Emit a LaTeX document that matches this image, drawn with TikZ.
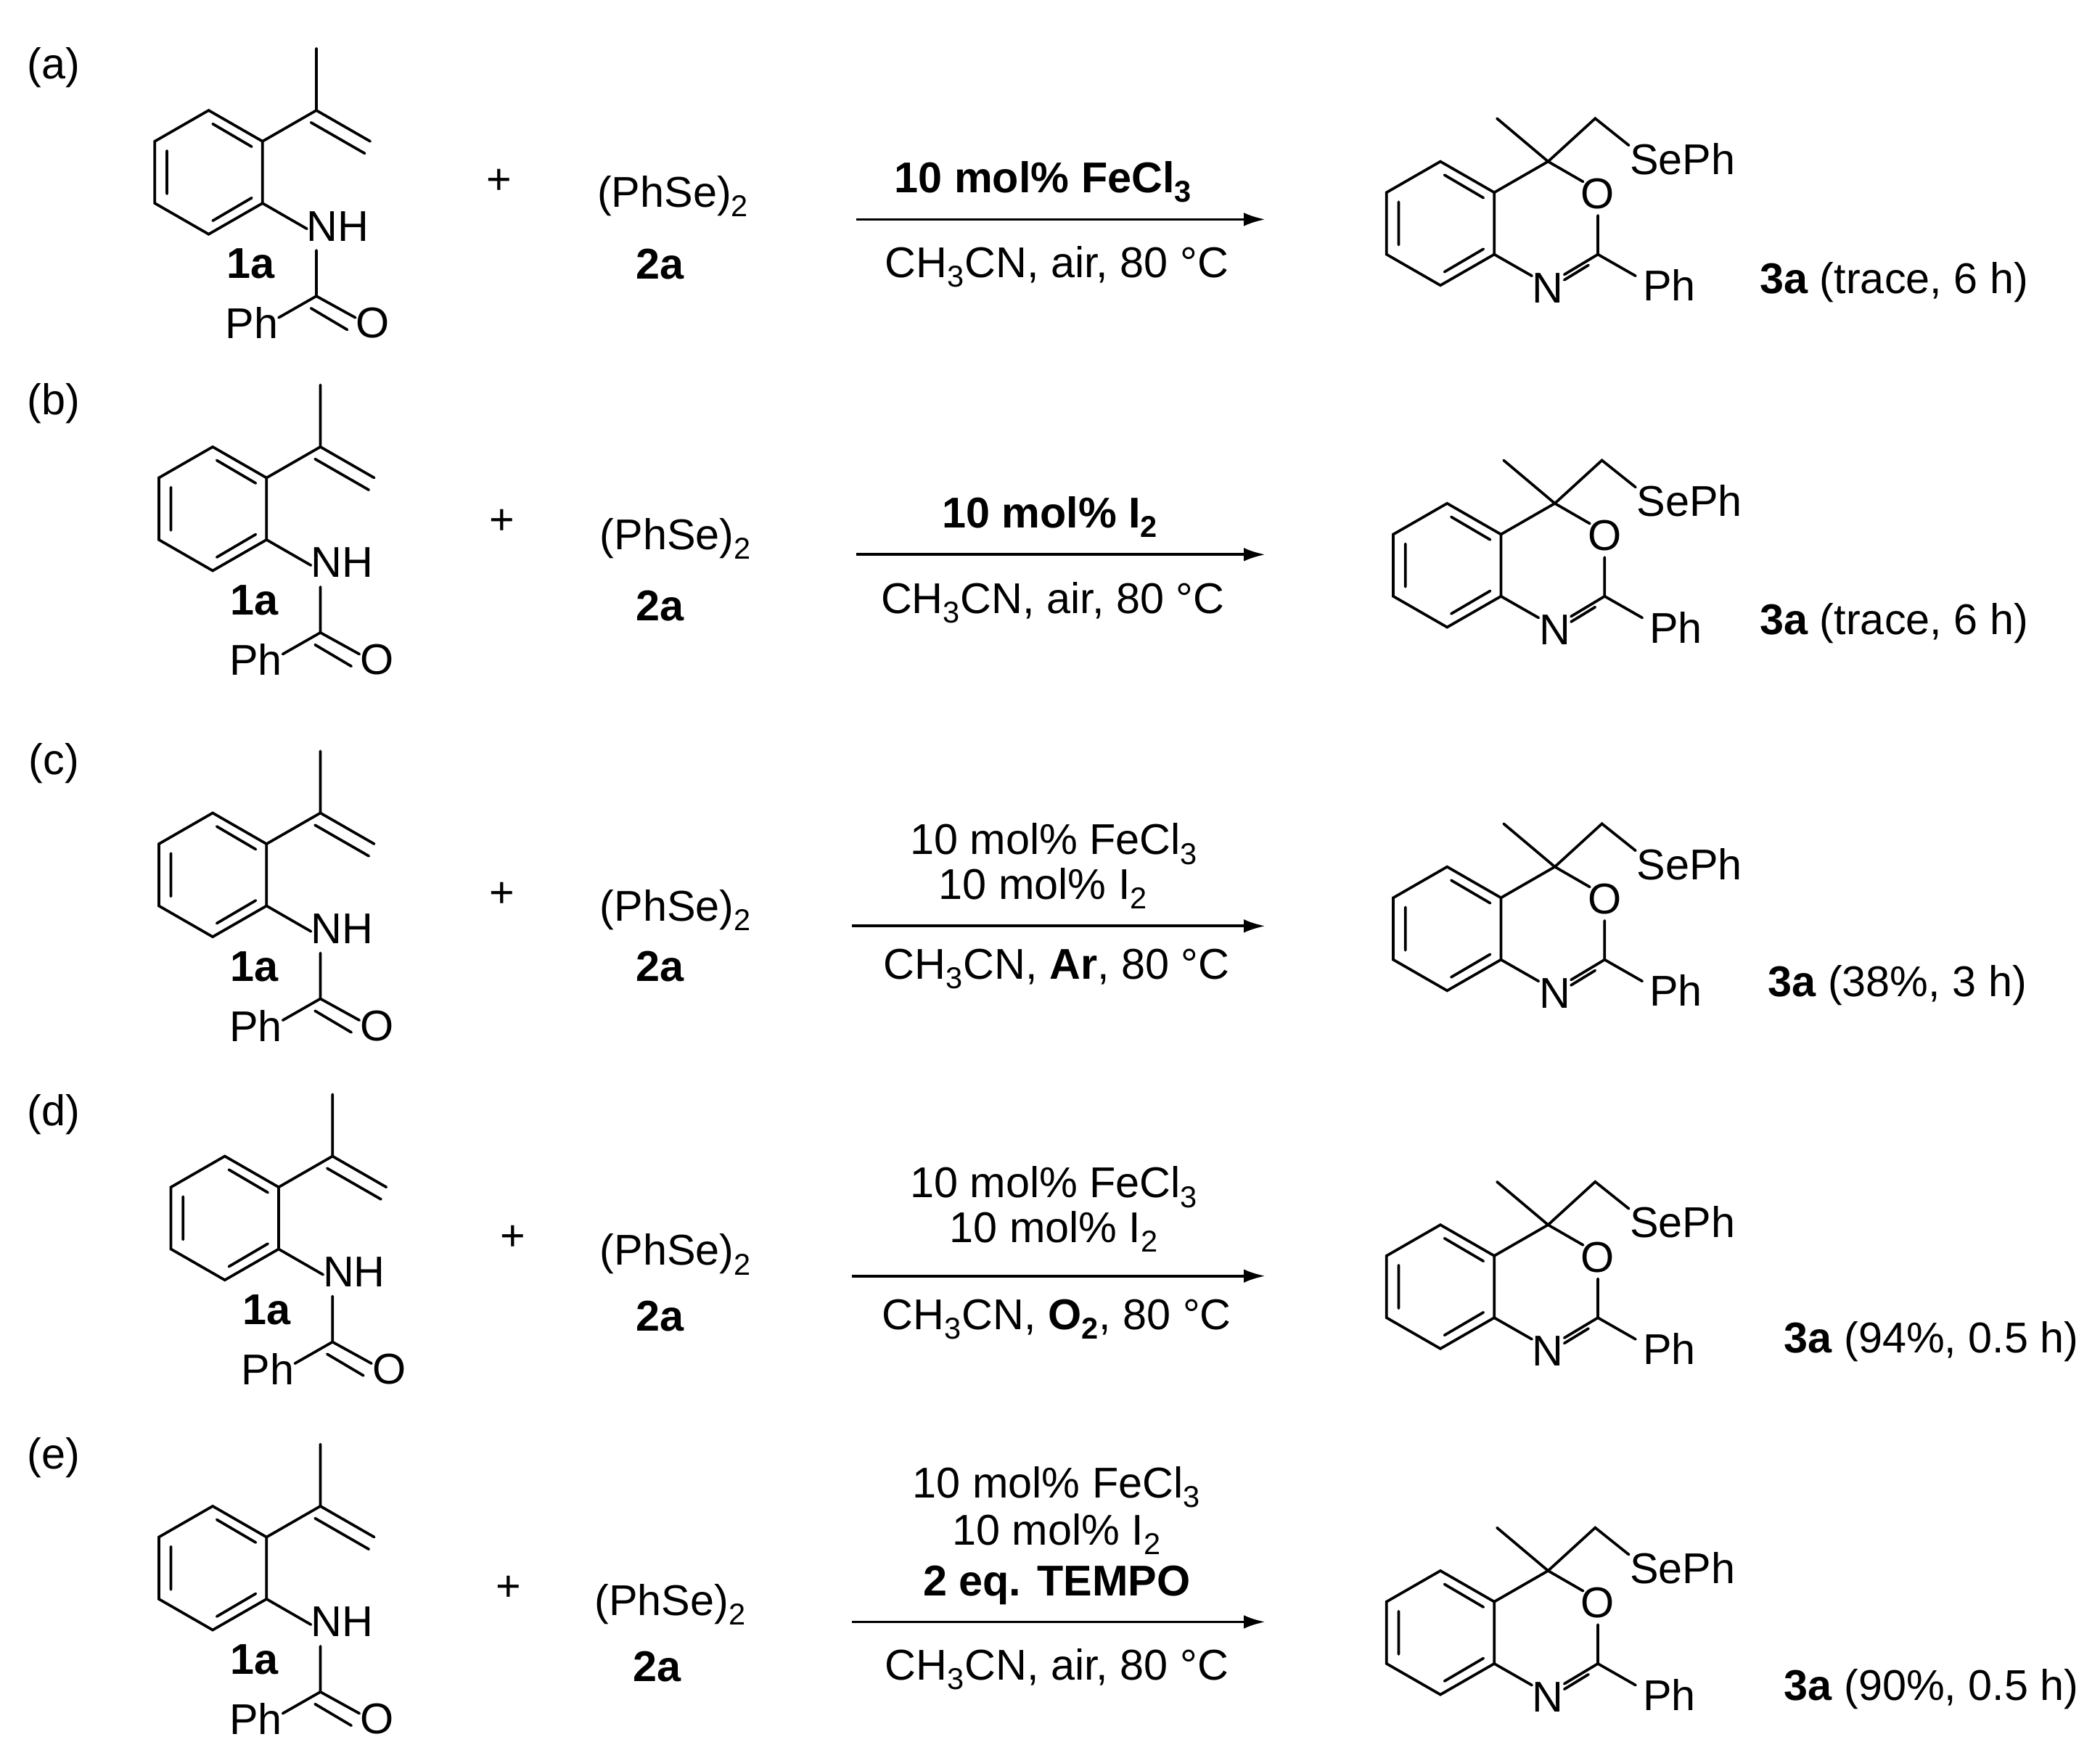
\documentclass[tikz,border=0pt]{standalone}
\usepackage{fontspec}
\setmainfont{Liberation Sans}
\usetikzlibrary{arrows.meta}
\tikzset{bond/.style={line width=2pt,line cap=round},
  lab/.style={inner sep=0pt,font=\fontsize{32}{36}\selectfont},
  blab/.style={inner sep=0pt,font=\fontsize{32}{36}\selectfont\bfseries},
  arr/.style={line width=2pt,-{Latex[length=16pt,width=10pt]}}}
\newcommand\reactant[2]{% #1 name suffix
\begin{scope}[shift={#2}]
\draw[bond] (155,82)--(195,105)--(195,151)--(155,174)--(115,151)--(115,105)--cycle;
\draw[bond] (158,92)--(187,109) (187,147)--(158,164) (124,112)--(124,144);
\draw[bond] (195,105)--(235,82)--(235,36);
\draw[bond] (235,82)--(275,105) (231,91)--(271,114);
\draw[bond] (195,151)--(228,170);
\node[lab] (nh#1) at (251,168) {NH};
\draw[bond] (235,186)--(235,220)--(207,236);
\draw[bond] (235,220)--(264,236) (231,229)--(258,245);
\node[lab] (ph#1) at (187,240) {Ph};
\node[lab] (o#1) at (277,240) {O};
\node[blab] (la#1) at (186,196) {1a};
\end{scope}}
\newcommand\product[2]{%
\begin{scope}[shift={#2}]
\draw[bond] (1070,120)--(1110,143)--(1110,189)--(1070,212)--(1030,189)--(1030,143)--cycle;
\draw[bond] (1073,130)--(1102,147) (1102,185)--(1073,202) (1039,150)--(1039,182);
\draw[bond] (1110,143)--(1150,120)--(1112,88);
\draw[bond] (1150,120)--(1185,88)--(1210,108);
\node[lab] (se#1) at (1250,118) {SePh};
\draw[bond] (1150,120)--(1176,135);
\node[lab] (po#1) at (1187,144) {O};
\draw[bond] (1187,160)--(1187,189)--(1162,204);
\draw[bond] (1180,197)--(1162,208);
\draw[bond] (1110,189)--(1138,205);
\node[lab] (pn#1) at (1150,214) {N};
\draw[bond] (1187,189)--(1215,205);
\node[lab] (pp#1) at (1240,212) {Ph};
\end{scope}}
\begin{document}
\begin{tikzpicture}[x=1pt,y=-1pt]
\useasboundingbox (0,0) rectangle (1560,1300);
\fill[white] (0,0) rectangle (1560,1300);
% (a)
\node[lab] (ta) at (40,50) {(a)};
\reactant{a}{(0,0)}
\node[lab] (pla) at (371,135) {+};
\node[lab] (sea) at (500,146) {(PhSe)\textsubscript{2}};
\node[blab] (2aa) at (490,196) {2a};
\coordinate (a1) at (636,163); \coordinate (a2) at (940,163);
\draw[arr] (a1)--(a2);
\node[blab] (ca1) at (775,135) {10 mol\% FeCl\textsubscript{3}};
\node[lab] (ca2) at (785,198) {CH\textsubscript{3}CN, air, 80 °C};
\product{a}{(0,0)}
\node[lab,anchor=west] (ya) at (1307,210) {\textbf{3a} (trace, 6 h)};
% (b)
\node[lab] (tb) at (40,300) {(b)};
\reactant{b}{(3,250)}
\node[lab] (plb) at (373,388) {+};
\node[lab] (seb) at (502,400) {(PhSe)\textsubscript{2}};
\node[blab] (2ab) at (490,450) {2a};
\coordinate (b1) at (636,412); \coordinate (b2) at (940,412);
\draw[arr] (b1)--(b2);
\node[blab] (cb1) at (780,384) {10 mol\% I\textsubscript{2}};
\node[lab] (cb2) at (782,448) {CH\textsubscript{3}CN, air, 80 °C};
\product{b}{(5,254)}
\node[lab,anchor=west] (yb) at (1307,463) {\textbf{3a} (trace, 6 h)};
% (c)
\node[lab] (tc) at (40,567) {(c)};
\reactant{c}{(3,522)}
\node[lab] (plc) at (373,665) {+};
\node[lab] (sec) at (502,676) {(PhSe)\textsubscript{2}};
\node[blab] (2ac) at (490,718) {2a};
\coordinate (c1) at (633,688); \coordinate (c2) at (940,688);
\draw[arr] (c1)--(c2);
\node[lab] (cc1) at (783,627) {10 mol\% FeCl\textsubscript{3}};
\node[lab] (cc2) at (775,660) {10 mol\% I\textsubscript{2}};
\node[lab] (cc3) at (785,720) {CH\textsubscript{3}CN, \textbf{Ar}, 80 °C};
\product{c}{(5,524)}
\node[lab,anchor=west] (yc) at (1313,732) {\textbf{3a} (38\%, 3 h)};
% (d)
\node[lab] (td) at (40,828) {(d)};
\reactant{d}{(12,777)}
\node[lab] (pld) at (381,920) {+};
\node[lab] (sed) at (502,932) {(PhSe)\textsubscript{2}};
\node[blab] (2ad) at (490,978) {2a};
\coordinate (d1) at (633,948); \coordinate (d2) at (940,948);
\draw[arr] (d1)--(d2);
\node[lab] (cd1) at (783,882) {10 mol\% FeCl\textsubscript{3}};
\node[lab] (cd2) at (783,915) {10 mol\% I\textsubscript{2}};
\node[lab] (cd3) at (785,980) {CH\textsubscript{3}CN, \textbf{O\textsubscript{2}}, 80 °C};
\product{d}{(0,790)}
\node[lab,anchor=west] (yd) at (1325,997) {\textbf{3a} (94\%, 0.5 h)};
% (e)
\node[lab] (te) at (40,1083) {(e)};
\reactant{e}{(3,1037)}
\node[lab] (ple) at (378,1180) {+};
\node[lab] (see) at (498,1192) {(PhSe)\textsubscript{2}};
\node[blab] (2ae) at (488,1238) {2a};
\coordinate (e1) at (633,1205); \coordinate (e2) at (940,1205);
\draw[arr] (e1)--(e2);
\node[lab] (ce1) at (785,1105) {10 mol\% FeCl\textsubscript{3}};
\node[lab] (ce2) at (785,1140) {10 mol\% I\textsubscript{2}};
\node[blab] (ce3) at (785,1178) {2 eq. TEMPO};
\node[lab] (ce4) at (785,1240) {CH\textsubscript{3}CN, air, 80 °C};
\product{e}{(0,1047)}
\node[lab,anchor=west] (ye) at (1325,1255) {\textbf{3a} (90\%, 0.5 h)};
\end{tikzpicture}
\end{document}
